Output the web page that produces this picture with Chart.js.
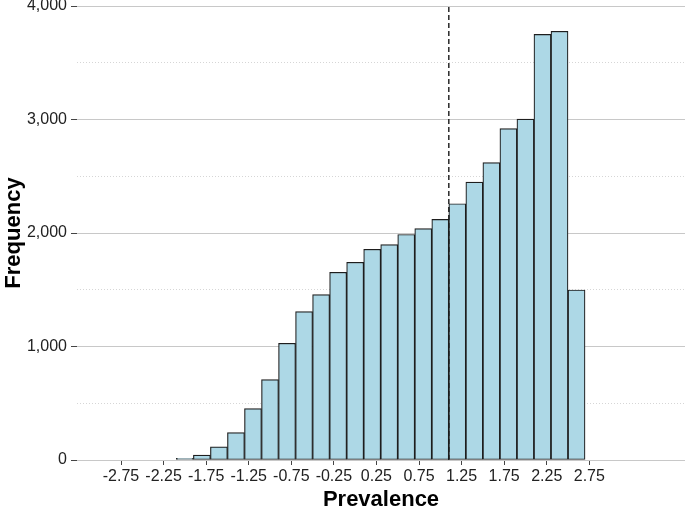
<!DOCTYPE html>
<html>
<head>
<meta charset="utf-8">
<title>Prevalence histogram</title>
<script src="https://cdn.jsdelivr.net/npm/chart.js@4.4.1/dist/chart.umd.min.js"></script>
<style>
  html, body { margin: 0; padding: 0; background: #fff; }
  #wrap { width: 685px; height: 509px; position: relative; }
</style>
</head>
<body>
<div id="wrap"><canvas id="hist"></canvas></div>
<script>
// bin centres (width 0.2) and counts
const binMids = [-2.0, -1.8, -1.6, -1.4, -1.2, -1.0, -0.8, -0.6, -0.4, -0.2, 0.0, 0.2,
                 0.4, 0.6, 0.8, 1.0, 1.2, 1.4, 1.6, 1.8, 2.0, 2.2, 2.4, 2.6];
const counts  = [15, 44, 115, 242, 452, 708, 1028, 1307, 1457, 1654, 1742, 1856,
                 1897, 1987, 2038, 2120, 2258, 2449, 2620, 2919, 3004, 3750, 3777, 1498];

const xTicks = [-2.75, -2.25, -1.75, -1.25, -0.75, -0.25, 0.25, 0.75, 1.25, 1.75, 2.25, 2.75];
const yMajor = [0, 1000, 2000, 3000, 4000];
const yMinor = [500, 1500, 2500, 3500];
const refLine = 1.1; // dashed marker

const FONT = "'Liberation Sans', Arial, Helvetica, sans-serif";

const barData = binMids.map((x, i) => ({ x, y: counts[i] }));

new Chart(document.getElementById('hist'), {
  type: 'bar',
  data: {
    datasets: [
      {
        type: 'line',
        data: [{ x: refLine, y: 0 }, { x: refLine, y: 4000 }],
        borderColor: '#1a1a1a',
        borderWidth: 1.4,
        borderDash: [5, 3],
        pointRadius: 0,
        order: 0,
        yAxisID: 'y'
      },
      {
        data: barData,
        backgroundColor: '#add8e6',
        borderColor: '#1e1e1e',
        borderWidth: 1.2,
        borderSkipped: false,
        barPercentage: 1,
        categoryPercentage: 1,
        order: 1,
        yAxisID: 'y'
      }
    ]
  },
  options: {
    responsive: true,
    maintainAspectRatio: false,
    animation: false,
    layout: { padding: { top: 6, right: 0, bottom: 0, left: 0 } },
    plugins: { legend: { display: false }, tooltip: { enabled: false } },
    scales: {
      x: {
        type: 'linear',
        offset: false,
        min: -3.267,
        max: 3.874,
        afterBuildTicks: (s) => { s.ticks = xTicks.map(v => ({ value: v })); },
        afterFit: (s) => { s.height = 49; s.paddingLeft = 0; s.paddingRight = 0; },
        ticks: {
          autoSkip: false,
          maxRotation: 0,
          padding: 2,
          color: '#222',
          font: { family: FONT, size: 16 },
          callback: (v) => Number(v).toFixed(2)
        },
        grid: { offset: false, drawOnChartArea: false, drawTicks: true, tickLength: 5, tickColor: '#444', tickWidth: 1 },
        border: { display: false },
        title: {
          display: true,
          text: 'Prevalence',
          color: '#000',
          padding: { top: 0, bottom: 0 },
          font: { family: FONT, size: 22, weight: 'bold', lineHeight: 0.8 }
        }
      },
      y: {
        position: 'left',
        min: 0,
        max: 4000,
        afterBuildTicks: (s) => { s.ticks = yMajor.map(v => ({ value: v })); },
        afterFit: (s) => { s.width = 77; s.paddingTop = 0; s.paddingBottom = 0; },
        ticks: {
          padding: 4,
          color: '#222',
          font: { family: FONT, size: 16 },
          callback: (v) => Number(v).toLocaleString('en-US')
        },
        grid: { color: '#c8c8c8', lineWidth: 1, drawTicks: true, tickLength: 6, tickColor: '#444', tickWidth: 1 },
        border: { display: false },
        title: {
          display: true,
          text: 'Frequency',
          color: '#000',
          padding: { top: 5, bottom: 0 },
          font: { family: FONT, size: 22, weight: 'bold', lineHeight: 0.8 }
        }
      },
      y2: {
        position: 'left',
        min: 0,
        max: 4000,
        afterBuildTicks: (s) => { s.ticks = yMinor.map(v => ({ value: v })); },
        afterFit: (s) => { s.width = 0; s.paddingTop = 0; s.paddingBottom = 0; },
        ticks: { display: false },
        grid: { color: '#d6d6d6', lineWidth: 1, drawTicks: false },
        border: { display: false, dash: [1, 2] }
      }
    }
  }
});
</script>
</body>
</html>
